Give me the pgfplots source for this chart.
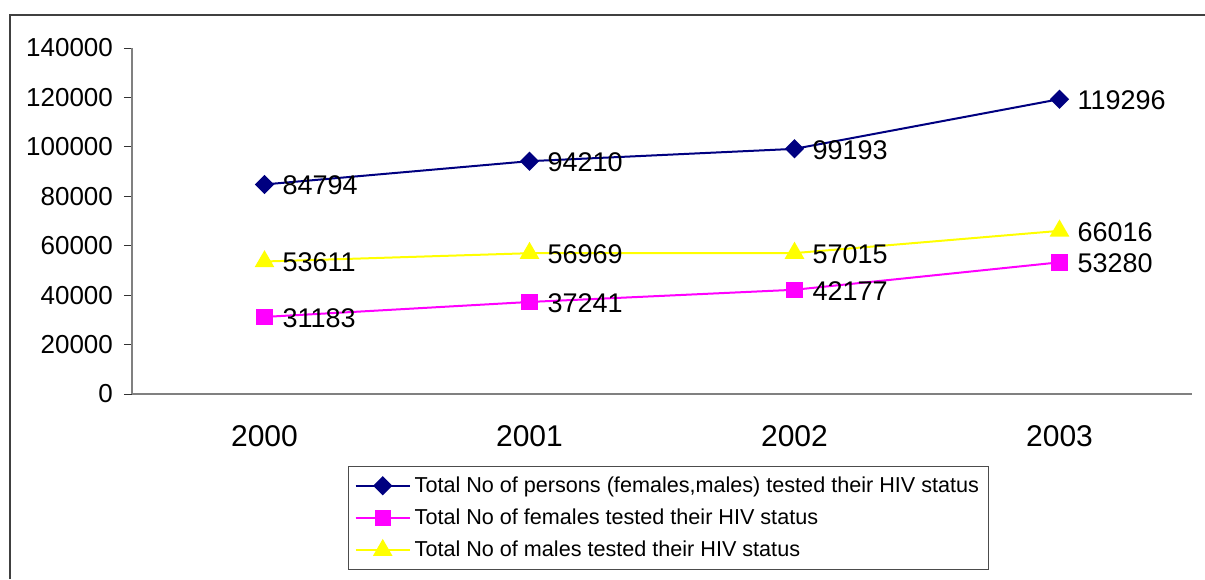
\documentclass[border=0pt]{standalone}
\usepackage{fontspec}
\setmainfont{Liberation Sans}
\usepackage{pgfplots}
\pgfplotsset{compat=1.18}
\definecolor{cTot}{RGB}{0,0,128}
\definecolor{cFem}{RGB}{255,0,255}
\definecolor{cMal}{RGB}{255,255,0}
\definecolor{axgray}{RGB}{128,128,128}
\definecolor{frame}{RGB}{64,64,64}
\begin{document}
\begin{tikzpicture}
\useasboundingbox (0,0) rectangle (602.5pt,289.5pt);
\draw[frame, line width=0.6pt] (5pt,0pt) -- (5pt,282pt) -- (602.5pt,282pt);
\begin{axis}[
  at={(66pt,92.5pt)}, anchor=south west,
  scale only axis, width=530pt, height=173pt,
  axis lines=left, axis line style={axgray, line width=0.6pt, -},
  xmin=-0.5, xmax=3.5, ymin=0, ymax=140000,
  xtick={0,1,2,3}, xticklabels={2000,2001,2002,2003},
  x tick style={draw=none},
  extra x ticks={-0.5,0.5,1.5,2.5,3.5}, extra x tick labels={},
  extra x tick style={tick style={draw=black!80, line width=0.5pt}, major tick length=4pt, tick align=outside},
  ytick={0,20000,...,140000},
  y tick style={draw=black!80, line width=0.5pt}, major tick length=4pt, tick align=outside,
  scaled y ticks=false,
  /pgf/number format/assume math mode=true,
  yticklabel={\pgfmathprintnumber[fixed,precision=0,1000 sep={}]{\tick}},
  yticklabel style={font=\fontsize{13}{15}\selectfont, xshift=-2pt},
  xticklabel style={font=\fontsize{15}{17}\selectfont, yshift=-8pt},
  nodes near coords, point meta=explicit symbolic,
  every node near coord/.append style={anchor=west, inner sep=0pt, xshift=8.5pt, yshift=-0.5pt, text=black, font=\fontsize{13.5}{15}\selectfont},
  legend style={at={(axis description cs:0.204,-0.208)}, anchor=north west,
    draw=black!70, line width=0.5pt, font=\fontsize{10.8}{12.5}\selectfont,
    cells={anchor=west}, row sep=2.8pt, inner xsep=3pt, inner ysep=3pt},
  legend image code/.code={\draw[mark repeat=2, mark phase=2, #1] plot coordinates {(0pt,0pt) (13.5pt,0pt) (27pt,0pt)};},
  clip=false,
]
\addplot[cTot, line width=1pt, mark=square*, mark size=2.9pt, mark options={rotate=45}]
  coordinates {(0,84794)[84794] (1,94210)[94210] (2,99193)[99193] (3,119296)[119296]};
\addlegendentry{Total No of persons (females,males) tested their HIV status}
\addplot[cFem, line width=1pt, mark=square*, mark size=3.6pt]
  coordinates {(0,31183)[31183] (1,37241)[37241] (2,42177)[42177] (3,53280)[53280]};
\addlegendentry{Total No of females tested their HIV status}
\addplot[cMal, line width=1pt, mark=triangle*, mark size=4.7pt]
  coordinates {(0,53611)[53611] (1,56969)[56969] (2,57015)[57015] (3,66016)[66016]};
\addlegendentry{Total No of males tested their HIV status}
\end{axis}
\end{tikzpicture}
\end{document}
